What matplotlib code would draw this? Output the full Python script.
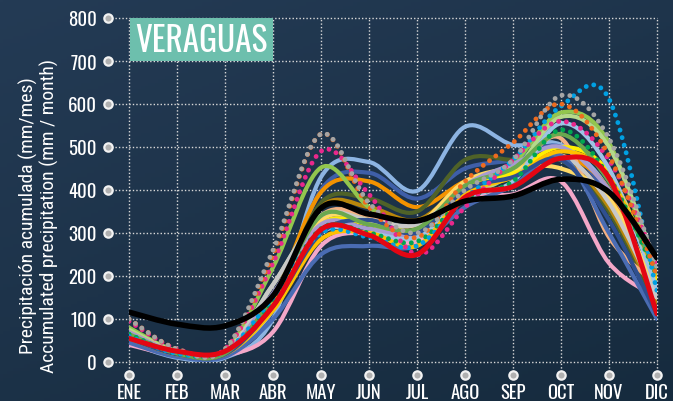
import numpy as np
import matplotlib
matplotlib.use("Agg")
import matplotlib.pyplot as plt
from matplotlib.path import Path
from matplotlib.patches import PathPatch, Rectangle

# ---- data (mm / month) ----
months = ['ENE', 'FEB', 'MAR', 'ABR', 'MAY', 'JUN', 'JUL', 'AGO', 'SEP', 'OCT', 'NOV', 'DIC']
yticks = [0, 100, 200, 300, 400, 500, 600, 700, 800]

light_blue   = [45, 10, 10, 100, 430, 465, 398, 547, 505, 505, 400, 150]
royal_blue   = [50, 15, 18, 120, 400, 440, 380, 450, 470, 500, 380, 105]
orange       = [60, 20, 25, 150, 395, 420, 360, 420, 450, 480, 400, 150]
olive        = [65, 20, 22, 140, 370, 380, 350, 470, 470, 470, 350, 130]
gold         = [60, 20, 22, 140, 360, 360, 330, 410, 440, 470, 360, 140]
lime         = [80, 25, 25, 220, 452, 360, 300, 390, 460, 580, 510, 190]
pale_green   = [75, 25, 25, 180, 340, 330, 280, 380, 440, 570, 500, 220]
peach        = [70, 22, 22, 150, 340, 340, 300, 400, 440, 520, 290, 180]
light_pink   = [40, 15, 15, 70, 270, 300, 280, 380, 390, 420, 230, 150]
yellow       = [70, 22, 22, 140, 320, 320, 290, 400, 440, 500, 440, 195]
light_yellow = [65, 20, 20, 150, 330, 330, 320, 420, 450, 450, 380, 170]
gray         = [60, 20, 20, 180, 340, 330, 320, 400, 430, 480, 370, 150]
lavender     = [70, 22, 22, 160, 320, 310, 300, 410, 460, 500, 400, 215]
sky          = [50, 15, 15, 120, 300, 300, 290, 380, 420, 555, 450, 170]
slate        = [45, 12, 12, 100, 250, 270, 270, 360, 410, 480, 300, 100]
amber        = [55, 18, 18, 120, 285, 300, 270, 390, 430, 490, 430, 200]
navy         = [55, 18, 18, 130, 300, 330, 300, 400, 430, 470, 330, 110]
green        = [65, 20, 20, 150, 340, 320, 310, 410, 450, 530, 420, 210]

gray_dot     = [100, 30, 30, 260, 530, 370, 300, 400, 470, 620, 520, 220]
orange_dot   = [100, 30, 30, 250, 530, 360, 290, 420, 510, 600, 480, 200]
pink_dot     = [95, 30, 30, 230, 490, 390, 250, 360, 470, 560, 470, 230]
cyan_dot     = [60, 20, 25, 150, 300, 290, 270, 380, 470, 595, 612, 165]
green_dot    = [65, 20, 25, 140, 310, 300, 280, 380, 420, 540, 430, 200]

red_line     = [55, 25, 25, 130, 308, 295, 250, 383, 408, 474, 428, 112]
mean_line    = [116, 88, 84, 154, 358, 344, 328, 374, 386, 425, 395, 242]

solid_series = [
    (light_blue, '#8db4e2'), (royal_blue, '#3f5fa8'), (orange, '#f39200'),
    (olive, '#4f6228'), (gold, '#b8860b'), (lime, '#92c64e'),
    (pale_green, '#b5d98a'), (peach, '#f4b183'), (light_pink, '#f4a7c8'),
    (yellow, '#ffee00'), (light_yellow, '#ffd966'), (gray, '#c8c8c8'),
    (lavender, '#a79bd1'), (sky, '#9dc3e6'), (slate, '#4a6cb3'),
    (amber, '#ffc000'), (navy, '#2f4f8f'), (green, '#6aa84f'),
]
dotted_series = [
    (green_dot, '#00a651'), (cyan_dot, '#00a0e3'), (pink_dot, '#e8288c'),
    (orange_dot, '#ed6b1f'), (gray_dot, '#a5a5a5'),
]

# condensed fonts, falling back to DejaVu Sans condensed
head_font = ['Oswald', 'Barlow Condensed', 'DejaVu Sans']
label_font = ['Roboto Condensed', 'Barlow Condensed', 'DejaVu Sans']
plt.rcParams['font.family'] = head_font
plt.rcParams['font.stretch'] = 'condensed'


def smooth_path(ys):
    # excel style smoothed line (bezier through every point)
    pts = np.column_stack([np.arange(len(ys)), ys]).astype(float)
    n = len(pts)
    verts = [pts[0]]
    codes = [Path.MOVETO]
    for i in range(n - 1):
        p0 = pts[max(i - 1, 0)]
        p1 = pts[i]
        p2 = pts[i + 1]
        p3 = pts[min(i + 2, n - 1)]
        c1 = p1 + (p2 - p0) / 6.0
        c2 = p2 - (p3 - p1) / 6.0
        verts += [c1, c2, p2]
        codes += [Path.CURVE4] * 3
    return Path(verts, codes)


def add_line(ax, ys, color, lw, dotted=False, z=3):
    patch = PathPatch(smooth_path(ys), fill=False, edgecolor=color, lw=lw, zorder=z)
    if dotted:
        patch.set_linestyle((0, (0.01, 1.6)))
    else:
        patch.set_joinstyle('round')
    patch.set_capstyle('round')
    ax.add_patch(patch)


fig = plt.figure(figsize=(6.73, 4.02), dpi=100)

# background gradient
bg = fig.add_axes([0, 0, 1, 1], zorder=-10)
gx, gy = np.meshgrid(np.linspace(0, 1, 200), np.linspace(0, 1, 120))
grad = 0.6 * gy + 0.4 * (1 - gx)
top = np.array([0x24, 0x3b, 0x55]) / 255
bot = np.array([0x16, 0x2b, 0x3e]) / 255
img = bot[None, None, :] + (top - bot)[None, None, :] * grad[..., None]
bg.imshow(img, origin='lower', aspect='auto', extent=[0, 1, 0, 1])
bg.axis('off')

ax = fig.add_axes([129 / 673, 39 / 402, 528 / 673, 344 / 402])
ax.patch.set_alpha(0)
ax.set_xlim(0, 11)
ax.set_ylim(0, 800)
for s in ax.spines.values():
    s.set_visible(False)

gridkw = dict(color='#d9d9d9', lw=1.0, ls=(0, (1, 1.5)), zorder=1)
for y in yticks:
    ax.plot([-0.44, 11], [y, y], clip_on=False, **gridkw)
    ax.plot([-0.44], [y], 'o', ms=6, mfc='#b0b0b0', mec='#f2f2f2', mew=1.6, clip_on=False, zorder=5)
for i in range(len(months)):
    ax.plot([i, i], [-30, 800], clip_on=False, **gridkw)
    ax.plot([i], [-30], 'o', ms=6, mfc='#b0b0b0', mec='#f2f2f2', mew=1.6, clip_on=False, zorder=5)

ax.set_xticks(range(len(months)))
ax.set_xticklabels(months)
ax.set_yticks(yticks)
ax.tick_params(axis='both', length=0, colors='white', labelsize=13.5)
ax.tick_params(axis='x', pad=15)
ax.tick_params(axis='y', pad=23)
for lab in ax.get_xticklabels() + ax.get_yticklabels():
    lab.set_fontweight('bold')

for ys, c in solid_series:
    add_line(ax, ys, c, 3.0)
for ys, c in dotted_series:
    add_line(ax, ys, c, 3.5, dotted=True, z=4)
add_line(ax, red_line, '#e30613', 3.6, z=6)
add_line(ax, mean_line, '#000000', 4.0, z=7)

# title box
ax.add_patch(Rectangle((0.02, 700), 2.98, 100, facecolor='#6dbfad', edgecolor='none', zorder=8))
ax.text(0.12, 748, 'VERAGUAS', color='white', fontsize=24, va='center', ha='left', zorder=9)

fig.text(39 / 673, 1 - 216 / 402,
         'Precipitación acumulada (mm/mes)\nAccumulated precipitation (mm / month)',
         rotation=90, color='white', fontsize=14, ha='center', va='center',
         multialignment='center', linespacing=1.15, family=label_font)

fig.savefig('out.png', dpi=100)
